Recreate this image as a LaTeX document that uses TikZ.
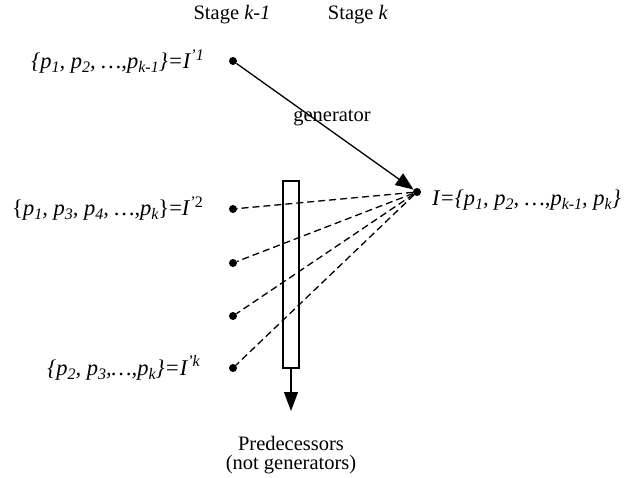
\documentclass[tikz,border=0pt]{standalone}
\usepackage{fontspec}
\setmainfont{Liberation Serif}
\usetikzlibrary{arrows.meta}
\newcommand{\sbs}[1]{\raisebox{-4pt}{\fontsize{16}{16}\selectfont #1}}
\newcommand{\sps}[1]{\raisebox{8.5pt}{\fontsize{16}{16}\selectfont #1}}
\begin{document}
\begin{tikzpicture}[x=1pt,y=-1pt,
  every node/.style={font=\fontsize{20.5}{23}\selectfont},
  dot/.style={circle,fill=black,inner sep=0pt,minimum size=8pt},
  lab/.style={inner sep=0pt,anchor=base east,font=\fontsize{22.5}{26}\selectfont},
  dashline/.style={line width=1.3pt,dash pattern=on 7pt off 4pt},
  solid/.style={line width=1.3pt}]
\useasboundingbox (0,0) rectangle (631,478);
\node (s1) at (232,15) {Stage \textit{k-1}};
\node (s2) at (358,15) {Stage \textit{k}};
\node[dot] (d1) at (233,61) {};
\node[dot] (d2) at (233,209) {};
\node[dot] (d3) at (233,263) {};
\node[dot] (d4) at (233,316) {};
\node[dot] (d5) at (233,368) {};
\node[dot] (I) at (417,192) {};
\node[lab] (l1) at (204,69) {\itshape \{p\sbs{1}, p\sbs{2}, …,p\sbs{k-1}\}=I\sps{'1}};
\node[lab] (l2) at (203,216) {\{\textit{p\sbs{1}, p\sbs{3}, p\sbs{4}, …,p\sbs{k}}\}=\textit{I\sps{'}}\sps{2}};
\node[lab] (l3) at (200,375) {\itshape \{p\sbs{2}, p\sbs{3},…,p\sbs{k}\}=I\sps{'k}};
\node[lab,anchor=base west] (lI) at (432,206) {\itshape I=\{p\sbs{1}, p\sbs{2}, …,p\sbs{k-1}, p\sbs{k}\}};
\node (gen) at (332,118) {generator};
\draw[solid] (283,181) rectangle (299,368);
\coordinate (rb) at (291,368);
\coordinate (rt) at (291,411);
\draw[solid,-{Triangle[length=19pt,width=14pt]}] (rb) -- (rt);
\node (pred) at (291,443) {Predecessors};
\node (notg) at (291,465) {(not generators)};
\draw[solid,-{Triangle[length=18pt,width=14pt]}] (d1) -- (I);
\foreach \d in {d2,d3,d4,d5} \draw[dashline] (I) -- (\d);
\end{tikzpicture}
\end{document}
